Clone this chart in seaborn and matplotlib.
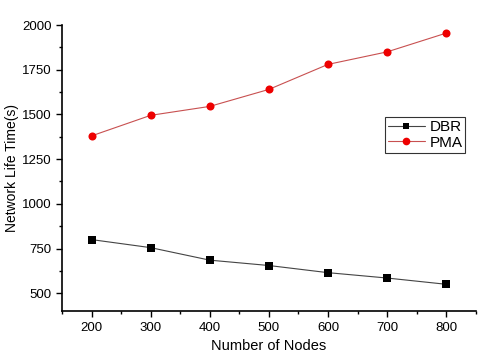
import numpy as np
import pandas as pd
import matplotlib
matplotlib.use("Agg")
import matplotlib.pyplot as plt
from matplotlib.ticker import MultipleLocator
import seaborn as sns

nodes = [200, 300, 400, 500, 600, 700, 800]
dbr = [800, 755, 685, 655, 615, 585, 550]
pma = [1380, 1495, 1545, 1640, 1780, 1850, 1955]

df = pd.DataFrame({
    'Nodes': nodes * 2,
    'Life': dbr + pma,
    'Protocol': ['DBR'] * len(nodes) + ['PMA'] * len(nodes),
})

sns.set_style('white')
plt.rcParams['font.family'] = ['Liberation Sans', 'DejaVu Sans']
plt.rcParams['text.color'] = 'black'
plt.rcParams['axes.labelcolor'] = 'black'
plt.rcParams['xtick.color'] = 'black'
plt.rcParams['ytick.color'] = 'black'

fig = plt.figure(figsize=(4.84, 3.58), dpi=100)
ax = fig.add_axes([0.128, 0.131, 0.855, 0.799])

sns.lineplot(data=df, x='Nodes', y='Life', hue='Protocol', style='Protocol',
             markers={'DBR': 's', 'PMA': 'o'}, dashes=False,
             palette={'DBR': '#000000', 'PMA': '#ee0000'},
             linewidth=0.8, ax=ax)

line_cols = {'DBR': '#444444', 'PMA': '#c85050'}
mark_cols = {'DBR': '#000000', 'PMA': '#ee0000'}
mark_size = {'DBR': 5.2, 'PMA': 5.8}


def style_line(line, key, scale=1.0):
    line.set_color(line_cols[key])
    line.set_linewidth(0.8)
    line.set_markerfacecolor(mark_cols[key])
    line.set_markeredgecolor(mark_cols[key])
    line.set_markeredgewidth(0)
    line.set_markersize(mark_size[key] * scale)


for line, key in zip(ax.get_lines()[:2], ['DBR', 'PMA']):
    style_line(line, key)

ax.set_xlim(150, 850)
ax.set_ylim(400, 2000)
ax.set_xticks([200, 300, 400, 500, 600, 700, 800])
ax.set_yticks([500, 750, 1000, 1250, 1500, 1750, 2000])
ax.xaxis.set_minor_locator(MultipleLocator(50))
ax.yaxis.set_minor_locator(MultipleLocator(125))
ax.tick_params(which='major', direction='out', length=4, width=1, labelsize=9.5,
               bottom=True, left=True)
ax.tick_params(which='minor', direction='out', length=2.5, width=1,
               bottom=True, left=True)

for s in ['top', 'right']:
    ax.spines[s].set_visible(False)
for s in ['left', 'bottom']:
    ax.spines[s].set_color('black')
    ax.spines[s].set_linewidth(1.2)

ax.set_xlabel('Number of Nodes', fontsize=10.5)
ax.set_ylabel('Network Life Time(s)', fontsize=10, labelpad=2)

handles, labels = ax.get_legend_handles_labels()
leg = ax.legend(handles[-2:], labels[-2:], loc='upper left',
                fontsize=11, frameon=True, fancybox=False, edgecolor='black',
                handlelength=2.4, borderpad=0.2, labelspacing=0.1,
                handletextpad=0.3, borderaxespad=0)
leg.set_bbox_to_anchor((385 / 484, 1 - 117 / 358), transform=fig.transFigure)
leg.get_frame().set_linewidth(0.8)
for h, key in zip(leg.get_lines(), ['DBR', 'PMA']):
    style_line(h, key, scale=0.95)

fig.savefig('out.png', dpi=100)
